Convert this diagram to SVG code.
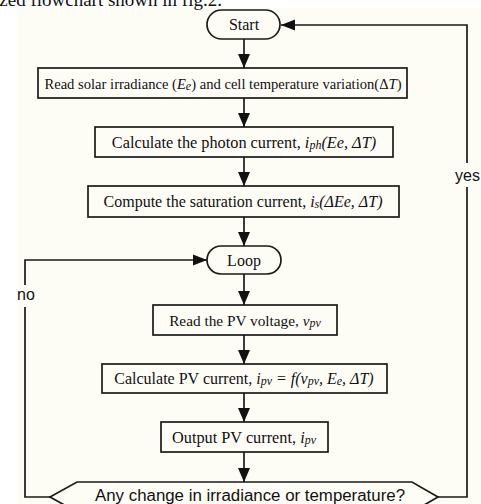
<svg xmlns="http://www.w3.org/2000/svg" width="481" height="504" viewBox="0 0 481 504">
<style>
.box{fill:#fdfdf6;stroke:#1a1a1a;stroke-width:1.7}
.ln{fill:none;stroke:#1a1a1a;stroke-width:1.7}
.t{font-family:"Liberation Serif","Times New Roman",serif;font-size:16px;fill:#111;text-anchor:middle}
.s{font-family:"Liberation Sans",Arial,sans-serif;font-size:16px;fill:#111}
.i{font-style:italic}
.sb{font-size:12px;font-style:italic}
</style>
<defs>
<marker id="ah" markerWidth="14" markerHeight="12" refX="14" refY="6" orient="auto" markerUnits="userSpaceOnUse">
<path d="M0,0.5 L14,6 L0,11.5 Z" fill="#111"/>
</marker>
<marker id="av" markerWidth="14" markerHeight="13" refX="14" refY="6.5" orient="auto" markerUnits="userSpaceOnUse">
<path d="M0,0.5 L14,6.5 L0,12.5 Z" fill="#111"/>
</marker>
</defs>
<rect x="0" y="0" width="481" height="504" fill="#ffffff"/>
<rect x="17" y="8" width="464" height="496" fill="#fdfdf6"/>
<text x="-6" y="6" font-family="Liberation Serif,serif" font-size="19" fill="#111">ized flowchart shown in fig.2.</text>

<g id="connectors">
<line class="ln" x1="244" y1="39" x2="244" y2="68" marker-end="url(#av)"/>
<line class="ln" x1="244" y1="98" x2="244" y2="127" marker-end="url(#av)"/>
<line class="ln" x1="244" y1="157" x2="244" y2="186" marker-end="url(#av)"/>
<line class="ln" x1="244" y1="217" x2="244" y2="246" marker-end="url(#av)"/>
<line class="ln" x1="244" y1="274" x2="244" y2="305" marker-end="url(#av)"/>
<line class="ln" x1="244" y1="335" x2="244" y2="364" marker-end="url(#av)"/>
<line class="ln" x1="244" y1="393" x2="244" y2="422" marker-end="url(#av)"/>
<line class="ln" x1="244" y1="452" x2="244" y2="482" marker-end="url(#av)"/>
<polyline class="ln" points="438,497 467,497 467,187"/>
<polyline class="ln" points="467,163 467,25 281,25" marker-end="url(#ah)"/>
<text class="s" x="455" y="181">yes</text>
<polyline class="ln" points="50,497 25,497 25,307"/>
<polyline class="ln" points="25,285 25,260 207,260" marker-end="url(#ah)"/>
<text class="s" x="17" y="300">no</text>
</g>

<g id="start">
<rect class="box" x="207" y="10" width="73" height="29" rx="14.5"/>
<text class="t" x="244" y="30">Start</text>
</g>
<g id="read-irradiance">
<rect class="box" x="38" y="68" width="369" height="30"/>
<text class="t" x="223" y="89" style="font-size:14.6px">Read solar irradiance (<tspan class="i">E</tspan><tspan class="sb" dy="1">e</tspan><tspan dy="-1">) and cell temperature variation(Δ</tspan><tspan class="i">T</tspan>)</text>
</g>
<g id="photon-current">
<rect class="box" x="95" y="127" width="298" height="30"/>
<text class="t" x="244" y="148" style="font-size:16.3px">Calculate the photon current,  <tspan class="i">i</tspan><tspan class="sb" dy="1">ph</tspan><tspan class="i" dy="-1">(Ee, ΔT)</tspan></text>
</g>
<g id="saturation-current">
<rect class="box" x="88" y="186" width="311" height="31"/>
<text class="t" x="243" y="207">Compute the saturation current, <tspan class="i">i</tspan><tspan class="sb" dy="1">s</tspan><tspan class="i" dy="-1">(ΔEe, ΔT)</tspan></text>
</g>
<g id="loop">
<rect class="box" x="207" y="246" width="74" height="28" rx="14"/>
<text class="t" x="244" y="266">Loop</text>
</g>
<g id="read-voltage">
<rect class="box" x="153" y="305" width="184" height="30"/>
<text class="t" x="245" y="326" style="font-size:15.3px">Read the PV voltage, <tspan class="i">v</tspan><tspan class="sb" dy="1">pv</tspan></text>
</g>
<g id="pv-current">
<rect class="box" x="102" y="364" width="285" height="29"/>
<text class="t" x="244" y="384">Calculate PV current, <tspan class="i">i</tspan><tspan class="sb" dy="1">pv</tspan><tspan class="i" dy="-1"> = f(v</tspan><tspan class="sb" dy="1">pv</tspan><tspan class="i" dy="-1">, E</tspan><tspan class="sb" dy="1">e</tspan><tspan class="i" dy="-1">, ΔT)</tspan></text>
</g>
<g id="output-current">
<rect class="box" x="161" y="422" width="167" height="30"/>
<text class="t" x="244" y="443" style="font-size:16.3px">Output PV current, <tspan class="i">i</tspan><tspan class="sb" dy="1">pv</tspan></text>
</g>
<g id="decision">
<polygon class="box" points="77,482 412,482 438,497 412,512 77,512 50,497"/>
<text class="s" x="250" y="501" text-anchor="middle" textLength="310" lengthAdjust="spacingAndGlyphs">Any change in irradiance or temperature?</text>
</g>
</svg>
